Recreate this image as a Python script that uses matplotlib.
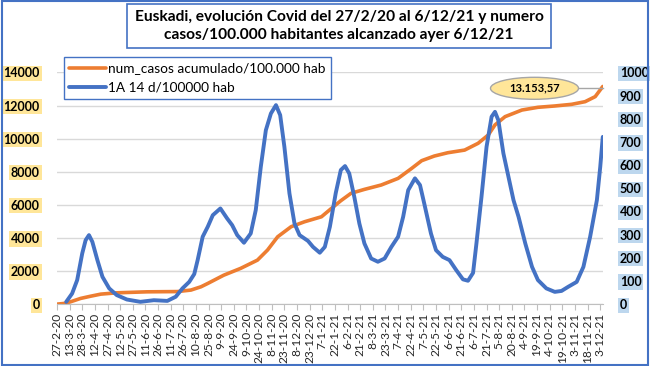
import pandas as pd
import numpy as np
import matplotlib.pyplot as plt
from matplotlib.patches import Ellipse, Rectangle

plt.rcParams["font.family"] = ["Lato", "DejaVu Sans"]

inicio = pd.Timestamp("2020-02-27")

# 1A 14 d/100000 hab (eje derecho), dias desde 27-2-20
dias_ia = [11, 18, 24, 30, 34, 38, 42, 48, 54, 62, 71, 83, 99, 115, 131, 141, 149, 157,
           163, 167, 173, 179, 185, 194, 202, 208, 214, 222, 230, 236, 242, 248, 254, 260,
           265, 270, 276, 282, 288, 298, 304, 312, 318, 324, 331, 337, 342, 347, 353, 359,
           365, 373, 381, 389, 397, 405, 411, 417, 425, 431, 436, 444, 450, 458, 466, 474,
           482, 488, 494, 498, 504, 510, 516, 520, 524, 530, 536, 542, 548, 556, 564, 571,
           581, 591, 599, 607, 617, 625, 633, 641, 645, 648]
ia14 = [10, 46, 104, 219, 276, 298, 269, 190, 118, 68, 39, 20, 10, 17, 14, 32, 68, 96,
        130, 190, 291, 334, 384, 413, 370, 341, 298, 265, 305, 406, 593, 751, 823, 859,
        816, 679, 478, 348, 298, 273, 247, 222, 247, 334, 480, 579, 596, 564, 463, 348,
        262, 197, 183, 197, 247, 291, 377, 492, 543, 514, 435, 305, 233, 204, 190, 147,
        107, 101, 135, 262, 463, 679, 809, 830, 794, 651, 550, 449, 377, 262, 161, 104,
        68, 53, 57, 75, 96, 161, 291, 449, 593, 722]

# num_casos acumulado/100.000 hab (eje izquierdo)
dias_acum = [0, 8, 16, 28, 40, 52, 71, 107, 143, 159, 171, 179, 198, 218, 238, 250, 262,
             278, 294, 314, 325, 337, 349, 365, 385, 405, 421, 433, 448, 464, 484, 500,
             512, 520, 532, 552, 571, 591, 611, 627, 639, 648]
acumulado = [0, 40, 140, 345, 480, 605, 685, 745, 760, 850, 1050, 1250, 1750, 2160,
             2660, 3270, 4070, 4680, 4980, 5280, 5750, 6250, 6695, 6935, 7200, 7600, 8200,
             8670, 8950, 9150, 9310, 9720, 10220, 10830, 11330, 11730, 11895, 11975,
             12075, 12235, 12540, 13153.57]

n_dias = 648
tick_dias = list(range(0, 646, 15))
tick_labels = [f"{d.day}-{d.month}-{d.strftime('%y')}"
               for d in [inicio + pd.Timedelta(days=k) for k in tick_dias]]

naranja = "#ED7D31"
azul = "#4472C4"

fig = plt.figure(figsize=(6.5, 3.66), dpi=100)
ax = fig.add_axes([0.087, 0.169, 0.841, 0.633])
ax2 = ax.twinx()

l1, = ax.plot(dias_acum, acumulado, color=naranja, lw=2.6, solid_capstyle="round",
              label="num_casos acumulado/100.000 hab")
l2, = ax2.plot(dias_ia, ia14, color=azul, lw=2.8, solid_capstyle="round",
               label="1A 14 d/100000 hab")

ax.set_xlim(-0.5, n_dias + 0.5)
ax.set_ylim(0, 14000)
ax2.set_ylim(0, 1000)
ax.set_yticks(range(0, 14001, 2000))
ax2.set_yticks(range(0, 1001, 100))
ax.set_xticks(tick_dias)
ax.set_xticklabels(tick_labels, rotation=90, fontsize=8.6, color="#262626")

ax.grid(axis="y", color="#D9D9D9", lw=1)
ax.set_axisbelow(True)

for a in (ax, ax2):
    for s in a.spines.values():
        s.set_visible(False)
ax.spines["bottom"].set_visible(True)
ax.spines["bottom"].set_color("#BFBFBF")
ax.tick_params(axis="x", length=4, color="#BFBFBF", pad=2)
ax.tick_params(axis="y", length=0, pad=12)
ax2.tick_params(axis="y", length=0, pad=12)

for t in ax.get_yticklabels():
    t.set_fontweight("bold")
    t.set_fontsize(9)
    t.set_bbox(dict(facecolor="#FFE699", edgecolor="none", pad=1.2))
for t in ax2.get_yticklabels():
    t.set_fontweight("bold")
    t.set_fontsize(9)
    t.set_bbox(dict(facecolor="#BDD7EE", edgecolor="none", pad=1.2))

leg = ax2.legend(handles=[l1, l2], loc="upper left", bbox_to_anchor=(0.0134, 1.067),
                 borderaxespad=0, fontsize=9.8, frameon=True, fancybox=False,
                 handlelength=2.7, handletextpad=0.15, borderpad=0.4, labelspacing=0.55)
leg.get_frame().set_edgecolor(azul)
leg.get_frame().set_linewidth(1)
leg.get_frame().set_alpha(1)

# etiqueta del ultimo valor
ell = Ellipse((534.5, 366 - 88.3), 88, 22, transform=None, facecolor="#FFE699",
              edgecolor="#A6A6A6", lw=1, zorder=5)
fig.patches.append(ell)
fig.lines.append(plt.Line2D([578.5 / 650, 602.5 / 650], [1 - 88 / 366, 1 - 88 / 366],
                            transform=fig.transFigure, color="#A6A6A6", lw=1))
fig.text(534.5 / 650, 1 - 88.3 / 366, "13.153,57", ha="center", va="center",
         fontsize=8, fontweight="bold", zorder=6)

# titulo
fig.patches.append(Rectangle((127 / 650, 1 - 48 / 366), 424 / 650, 44 / 366,
                             transform=fig.transFigure, facecolor="white",
                             edgecolor=azul, lw=1.2))
fig.text(339 / 650, 1 - 26 / 366,
         "Euskadi, evolución Covid del 27/2/20 al 6/12/21 y numero\n"
         "casos/100.000 habitantes alcanzado ayer 6/12/21",
         ha="center", va="center", fontsize=11.2, fontweight="bold", linespacing=1.3)

# borde exterior
fig.patches.append(Rectangle((0.003, 0.004), 0.994, 0.992, transform=fig.transFigure,
                             facecolor="none", edgecolor=azul, lw=1.5))

fig.savefig("out.png", dpi=100)
